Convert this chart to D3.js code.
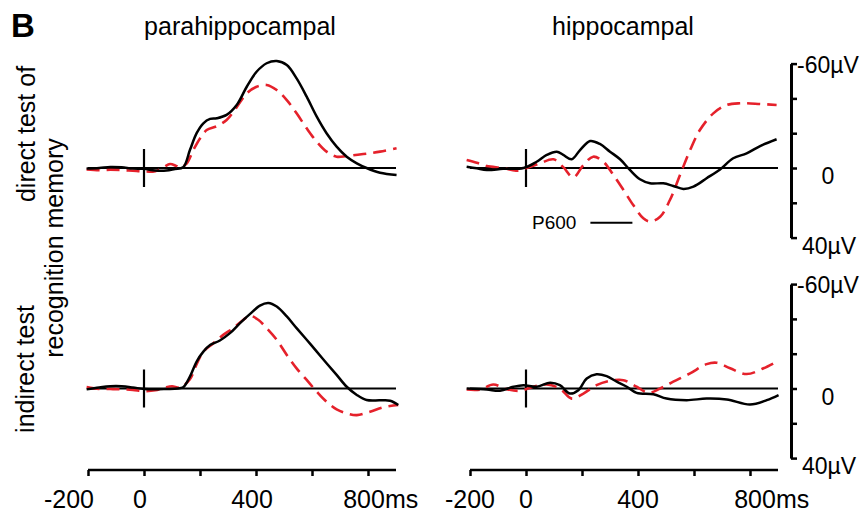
<!DOCTYPE html>
<html>
<head>
<meta charset="utf-8">
<script src="https://cdn.jsdelivr.net/npm/d3@7"></script>
<style>
  body { margin: 0; background: #fff; }
  text { font-family: "Liberation Sans", Arial, sans-serif; fill: #000; }
</style>
</head>
<body>
<script>
// ERP traces: [time in ms, amplitude in µV] (negative is up)
var paraDirectBlack = [[-205,0.3],[-160,0],[-120,-0.6],[-80,-0.4],[-40,0.3],[0,0.5],[40,1.5],[80,1.5],[110,0.6],[140,-0.4],[164,-10.3],[188,-20],[212,-25.7],[236,-28.2],[260,-28.6],[295,-30.5],[331,-36.2],[367,-46.7],[402,-55.3],[438,-60.2],[474,-61.5],[510,-59.2],[545,-51.5],[581,-41],[617,-29.5],[652,-20],[688,-12.3],[724,-6.5],[760,-2.7],[795,0],[843,2.7],[902,4]];
var paraDirectRed = [[-205,0.8],[-160,1.2],[-120,1],[-80,1.2],[-40,1.6],[0,2],[40,1.8],[70,-0.5],[93,-2.3],[115,-1.2],[129,-0.3],[152,-2.5],[176,-10.3],[200,-17],[224,-21.8],[260,-24],[295,-27.6],[331,-35],[367,-42.9],[402,-46.7],[438,-47.7],[474,-44.8],[510,-39],[545,-31.4],[581,-22.8],[617,-15.1],[652,-9.4],[688,-6.5],[724,-6.9],[783,-8],[843,-9.4],[902,-11.3]];
var hippoDirectBlack = [[-212,-0.7],[-176,0.2],[-140,1.1],[-82,0.5],[-9,0],[38,-3.6],[74,-7.5],[110,-9.4],[133,-7.5],[163,-5],[193,-10.3],[229,-15.5],[264,-13.8],[300,-9.4],[336,-5],[371,1.1],[407,6.5],[443,8.8],[490,8.8],[526,10.3],[562,12],[598,10.7],[645,5.9],[693,0.8],[740,-5.6],[788,-8.4],[836,-12.6],[895,-16.5]];
var hippoDirectRed = [[-212,-4.6],[-176,-3],[-140,-1.1],[-82,0],[-35,1.5],[2,0],[50,-2.7],[98,-5],[133,-0.5],[169,5.4],[205,-1.7],[240,-6.5],[276,-3.6],[312,4],[348,12.6],[383,21.3],[419,28.9],[443,30.8],[479,28],[514,18.4],[550,4],[586,-10.3],[621,-21.8],[669,-31.4],[717,-36.2],[764,-37.2],[836,-36.8],[895,-36.2]];
var paraIndirectBlack = [[-205,0.5],[-160,-0.6],[-120,-1.3],[-80,-1.3],[-40,-0.6],[0,0.3],[40,0.5],[80,0.3],[120,0],[140,-0.7],[164,-6.8],[188,-15.5],[212,-21.2],[236,-25],[271,-27.6],[307,-31.8],[343,-37.6],[379,-42.9],[414,-47.6],[444,-49.1],[474,-47.1],[510,-41.4],[545,-34.7],[581,-28],[617,-21.2],[652,-14.5],[688,-7.8],[724,-1],[760,3.7],[795,6.6],[843,6.8],[879,7],[908,9.5]];
var paraIndirectRed = [[-205,-0.8],[-160,0.2],[-120,0.3],[-80,0.5],[-40,0.8],[0,1.5],[40,1],[75,-0.6],[100,-1.3],[129,-0.6],[164,-5.3],[188,-14],[212,-21.2],[248,-26],[283,-30.8],[319,-34.7],[355,-39.5],[379,-41.8],[408,-39.5],[438,-34.7],[474,-28],[510,-19.3],[545,-11.6],[581,-4.9],[617,1.8],[652,7.6],[688,12],[724,14.3],[760,15.3],[807,13.4],[855,10.8],[908,9.5]];
var hippoIndirectBlack = [[-212,0],[-140,0.6],[-93,1.3],[-45,-1],[-9,-1.9],[38,-1],[86,-3.3],[121,-1.9],[157,2.9],[187,1],[217,-5.8],[252,-8.2],[288,-7.1],[324,-3.9],[360,-1],[395,2.5],[455,3.3],[502,5.8],[574,6.7],[645,5.8],[717,6.3],[800,9.2],[860,6.7],[902,3.8]];
var hippoIndirectRed = [[-212,0.6],[-164,0.6],[-117,-2.3],[-69,0.4],[-21,1.3],[26,-1],[74,-2.3],[121,0],[163,5.8],[205,2.9],[252,-1.9],[300,-4.4],[348,-4.8],[395,-1],[437,2.5],[479,0],[526,-3.9],[586,-8.7],[645,-14],[681,-14.8],[729,-11.6],[788,-8.3],[848,-11.6],[902,-16]];

var columnTitles = ["parahippocampal", "hippocampal"];
var timeTicks = [-200, 0, 200, 400, 600, 800];
var timeLabels = [-200, 0, 400, 800];
var voltTicks = [-60, -40, -20, 0, 20, 40];
var voltLabels = [{v: -60, text: "-60µV"}, {v: 0, text: "0"}, {v: 40, text: "40µV"}];

var width = 867, height = 515;
var red = "#e5212b";

var svg = d3.select("body").append("svg")
    .attr("width", width)
    .attr("height", height);

// one x scale per column, one y scale per row
var xLeft = d3.scaleLinear().domain([-200, 900]).range([88, 396]);
var xRight = d3.scaleLinear().domain([-200, 900]).range([470, 778]);
var yTop = d3.scaleLinear().domain([40, -60]).range([237.6, 63.6]);
var yBottom = d3.scaleLinear().domain([40, -60]).range([458.1, 284.1]);

var panels = [
  {x: xLeft,  y: yTop,    black: paraDirectBlack,   red: paraDirectRed},
  {x: xRight, y: yTop,    black: hippoDirectBlack,  red: hippoDirectRed},
  {x: xLeft,  y: yBottom, black: paraIndirectBlack, red: paraIndirectRed},
  {x: xRight, y: yBottom, black: hippoIndirectBlack, red: hippoIndirectRed}
];

panels.forEach(function(p) {
  var g = svg.append("g");

  // zero line
  g.append("line")
      .attr("x1", p.x(-200)).attr("x2", p.x(900))
      .attr("y1", p.y(0)).attr("y2", p.y(0))
      .attr("stroke", "#000").attr("stroke-width", 2);

  // stimulus onset marker
  g.append("line")
      .attr("x1", p.x(0)).attr("x2", p.x(0))
      .attr("y1", p.y(0) - 19).attr("y2", p.y(0) + 19)
      .attr("stroke", "#000").attr("stroke-width", 2.2);

  var line = d3.line()
      .x(function(d) { return p.x(d[0]); })
      .y(function(d) { return p.y(d[1]); })
      .curve(d3.curveCatmullRom.alpha(0.5));

  g.append("path")
      .datum(p.red)
      .attr("d", line)
      .attr("fill", "none")
      .attr("stroke", red)
      .attr("stroke-width", 2.6)
      .attr("stroke-dasharray", "13,7");

  g.append("path")
      .datum(p.black)
      .attr("d", line)
      .attr("fill", "none")
      .attr("stroke", "#000")
      .attr("stroke-width", 2.5);
});

// time axes under both columns
[{x: xLeft, dx: [-19, -4, -4, -4]}, {x: xRight, dx: [0, 0, 0, 5]}].forEach(function(c) {
  var ax = svg.append("g")
      .attr("transform", "translate(0,470)")
      .call(d3.axisBottom(c.x).tickValues(timeTicks).tickSize(6).tickFormat(""));
  ax.select(".domain")
      .attr("d", "M" + c.x(-200) + ",0H" + c.x(900))
      .attr("stroke-width", 2.5);
  ax.selectAll(".tick line").attr("stroke-width", 2.5);

  timeLabels.forEach(function(t, i) {
    svg.append("text")
        .attr("x", c.x(t) + c.dx[i])
        .attr("y", 508)
        .attr("text-anchor", "middle")
        .style("font-size", "25px")
        .text(t);
  });
  // unit after the last label
  svg.append("text")
      .attr("x", c.x(800) + c.dx[3] + 21)
      .attr("y", 508)
      .style("font-size", "25px")
      .text("ms");
});

// voltage scale bars on the right
[yTop, yBottom].forEach(function(y) {
  var ax = svg.append("g")
      .attr("transform", "translate(791,0)")
      .call(d3.axisRight(y).tickValues(voltTicks).tickSize(6).tickSizeOuter(0).tickFormat(""));
  ax.select(".domain").attr("stroke-width", 3);
  ax.selectAll(".tick line").attr("stroke-width", 2.5);

  voltLabels.forEach(function(l) {
    svg.append("text")
        .attr("x", l.v === 0 ? 828 : (l.v < 0 ? 797 : 802))
        .attr("y", y(l.v) + (l.v < 0 ? 9 : 16))
        .attr("text-anchor", l.v === 0 ? "middle" : "start")
        .style("font-size", "23px")
        .text(l.text);
  });
});

// P600 annotation
svg.append("text")
    .attr("x", 532).attr("y", 229)
    .style("font-size", "19px")
    .text("P600");
svg.append("line")
    .attr("x1", xRight(230)).attr("x2", xRight(380))
    .attr("y1", yTop(31.5)).attr("y2", yTop(31.5))
    .attr("stroke", "#000").attr("stroke-width", 2);

// column titles
svg.append("text")
    .attr("x", 240).attr("y", 35)
    .attr("text-anchor", "middle")
    .style("font-size", "25px")
    .text(columnTitles[0]);
svg.append("text")
    .attr("x", 623).attr("y", 35)
    .attr("text-anchor", "middle")
    .style("font-size", "25px")
    .text(columnTitles[1]);

// row labels, rotated
var rowLabels = [
  {text: "direct test of", x: 35, y: 134},
  {text: "recognition memory", x: 63, y: 248},
  {text: "indirect test", x: 34, y: 369}
];
rowLabels.forEach(function(r) {
  svg.append("text")
      .attr("transform", "translate(" + r.x + "," + r.y + ") rotate(-90)")
      .attr("text-anchor", "middle")
      .style("font-size", "25px")
      .text(r.text);
});

// panel letter
svg.append("text")
    .attr("x", 11).attr("y", 37)
    .style("font-size", "33px")
    .style("font-weight", "bold")
    .text("B");
</script>
</body>
</html>
